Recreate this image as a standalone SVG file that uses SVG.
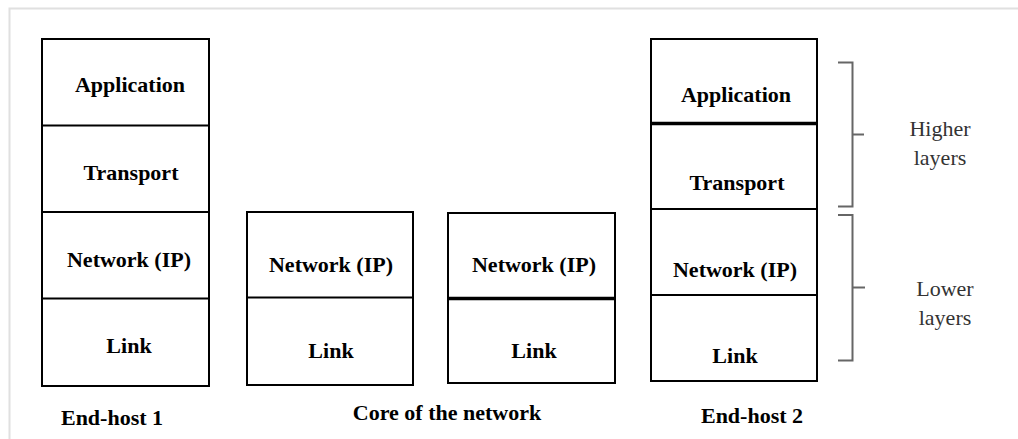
<svg xmlns="http://www.w3.org/2000/svg" width="1018" height="439" viewBox="0 0 1018 439">
<style>
.box{fill:#fff;stroke:#000;stroke-width:2}
.div{stroke:#000;stroke-width:2}
.thick{stroke:#000;stroke-width:3.5}
.lbl{font-family:"Liberation Serif","Times New Roman",serif;font-weight:bold;font-size:22px;fill:#000;text-anchor:middle}
.cap{font-family:"Liberation Serif","Times New Roman",serif;font-size:22px;fill:#333;text-anchor:middle}
.br{fill:none;stroke:#666;stroke-width:2}
</style>
<rect x="0" y="0" width="1018" height="439" fill="#fff"/>
<path d="M9.5 439 V8.5 H1018" fill="none" stroke="#e0e0e0" stroke-width="2"/>

<g id="end-host-1">
<rect class="box" x="42" y="39" width="167" height="347"/>
<line class="div" x1="42" y1="125.5" x2="209" y2="125.5"/>
<line class="div" x1="42" y1="212" x2="209" y2="212"/>
<line class="div" x1="42" y1="298.5" x2="209" y2="298.5"/>
<text class="lbl" x="130" y="92">Application</text>
<text class="lbl" x="131" y="180">Transport</text>
<text class="lbl" x="129" y="267">Network (IP)</text>
<text class="lbl" x="129" y="353">Link</text>
<text class="lbl" x="112" y="425">End-host 1</text>
</g>

<g id="core-router-1">
<rect class="box" x="247" y="212" width="166" height="173"/>
<line class="div" x1="247" y1="297.5" x2="413" y2="297.5"/>
<text class="lbl" x="331" y="272">Network (IP)</text>
<text class="lbl" x="331" y="358">Link</text>
</g>

<g id="core-router-2">
<rect class="box" x="448" y="213" width="167" height="170"/>
<line class="thick" x1="448" y1="298.5" x2="615" y2="298.5"/>
<text class="lbl" x="534" y="272">Network (IP)</text>
<text class="lbl" x="534" y="358">Link</text>
</g>
<text class="lbl" x="447" y="420">Core of the network</text>

<g id="end-host-2">
<rect class="box" x="651" y="39" width="166" height="342"/>
<line class="thick" x1="651" y1="123.5" x2="817" y2="123.5"/>
<line class="div" x1="651" y1="209" x2="817" y2="209"/>
<line class="div" x1="651" y1="295" x2="817" y2="295"/>
<text class="lbl" x="736" y="102">Application</text>
<text class="lbl" x="737" y="190">Transport</text>
<text class="lbl" x="735" y="277">Network (IP)</text>
<text class="lbl" x="735" y="363">Link</text>
<text class="lbl" x="752" y="423">End-host 2</text>
</g>

<g id="connectors">
<path class="br" d="M838 62.5 H852.5 V206.5 H838 M852.5 134.5 H864"/>
<path class="br" d="M838 215 H852.5 V360.5 H838 M852.5 287.5 H865"/>
</g>

<g id="higher-layers">
<text class="cap" x="940" y="136">Higher</text>
<text class="cap" x="940" y="165">layers</text>
</g>
<g id="lower-layers">
<text class="cap" x="945" y="296">Lower</text>
<text class="cap" x="945" y="325">layers</text>
</g>
</svg>
